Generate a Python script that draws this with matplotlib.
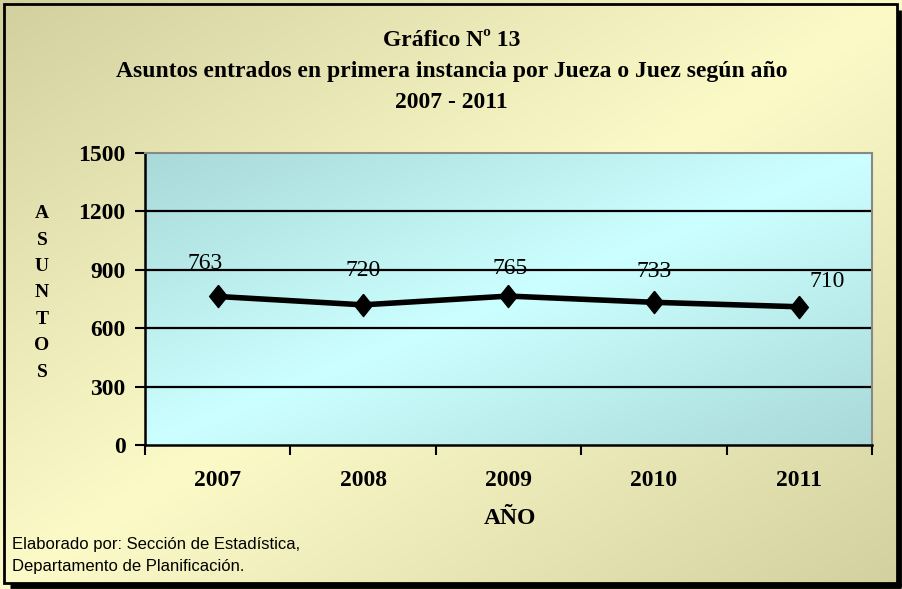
import numpy as np
import matplotlib
matplotlib.use('Agg')
import matplotlib.pyplot as plt
from matplotlib.colors import LinearSegmentedColormap
from matplotlib.path import Path
from matplotlib.patches import Rectangle

# Data
years = ['2007', '2008', '2009', '2010', '2011']
asuntos = [763, 720, 765, 733, 710]
yticks = [0, 300, 600, 900, 1200, 1500]

# label offsets (points) for the value labels, as placed in the original
label_offsets = [(-9, 24), (0, 25), (1, 20), (0, 22), (20, 18)]

plt.rcParams['font.family'] = ['Liberation Serif', 'DejaVu Serif']

W, H = 903, 589
fig = plt.figure(figsize=(W / 100, H / 100), dpi=100)


def diag_gradient(dark, light, n=300):
    xx, yy = np.meshgrid(np.linspace(0, 1, n), np.linspace(0, 1, n))
    t = (xx + yy) / 2
    cmap = LinearSegmentedColormap.from_list('g', [dark, light, dark])
    return t, cmap


# background gradient for the whole chart
bg = fig.add_axes([0, 0, 1, 1], zorder=-10)
t, cmap = diag_gradient('#d3d0a0', '#fcfbc8')
bg.imshow(t, cmap=cmap, extent=[0, 1, 0, 1], aspect='auto', origin='upper')
bg.set_xlim(0, 1)
bg.set_ylim(0, 1)
bg.axis('off')

# frame: thin on left/top, heavy shadow on right/bottom
lx, rx = 4 / W, 897 / W
ty, by = 1 - 4 / H, 1 - 583 / H
bg.add_patch(Rectangle((lx, by), rx - lx, ty - by, fill=False,
                       edgecolor='black', linewidth=2, transform=bg.transAxes))
bg.plot([rx + 2.5 / W, rx + 2.5 / W], [ty - 6 / H, by - 4 / H],
        color='black', linewidth=3.5, solid_capstyle='butt')
bg.plot([lx + 6 / W, rx + 4 / W], [by - 2.5 / H, by - 2.5 / H],
        color='black', linewidth=3.5, solid_capstyle='butt')

# plot area
ax = fig.add_axes([145 / W, 1 - 445 / H, (872 - 145) / W, (445 - 153) / H])
t2, cmap2 = diag_gradient('#a9d9d9', '#ccffff')
ax.imshow(t2, cmap=cmap2, extent=[-0.5, 4.5, 0, 1500], aspect='auto',
          origin='upper', zorder=0)

x = np.arange(len(years))
ax.plot(x, asuntos, color='black', linewidth=4, zorder=3)
diamond = Path([(0, 1), (0.8, 0), (0, -1), (-0.8, 0), (0, 1)])
ax.plot(x, asuntos, linestyle='none', marker=diamond, markersize=16,
        color='black', zorder=4)

for xi, v, off in zip(x, asuntos, label_offsets):
    ax.annotate(str(v), (xi, v), xytext=off, textcoords='offset points',
                ha='center', va='center', fontsize=17, zorder=5)

ax.set_xlim(-0.5, 4.5)
ax.set_ylim(0, 1500)
ax.set_yticks(yticks)
ax.set_yticklabels([str(v) for v in yticks], fontsize=17, fontweight='bold')
for v in yticks[1:-1]:
    ax.axhline(v, color='black', linewidth=1.6, zorder=2)

ax.set_xticks(np.arange(-0.5, 5, 1))
ax.set_xticklabels([])
ax.set_xticks(x, minor=True)
ax.set_xticklabels(years, minor=True, fontsize=17, fontweight='bold')
ax.tick_params(axis='x', which='major', direction='out', length=7, width=1.5)
ax.tick_params(axis='x', which='minor', length=0, pad=18)
ax.tick_params(axis='y', direction='out', length=7, width=1.5, pad=7)

ax.spines['left'].set_linewidth(1.8)
ax.spines['bottom'].set_linewidth(1.8)
ax.spines['top'].set_color('#888888')
ax.spines['right'].set_color('#888888')
ax.spines['top'].set_linewidth(1.5)
ax.spines['right'].set_linewidth(1.5)

# titles
fig.text(0.5, 1 - 40 / H, 'Gráfico Nº 13', ha='center', va='center',
         fontsize=17, fontweight='bold')
fig.text(0.5, 1 - 72 / H,
         'Asuntos entrados en primera instancia por Jueza o Juez según año',
         ha='center', va='center', fontsize=17, fontweight='bold')
fig.text(0.5, 1 - 103 / H, '2007 - 2011', ha='center', va='center',
         fontsize=17, fontweight='bold')

# axis labels
fig.text(42 / W, 1 - 293 / H, 'A\nS\nU\nN\nT\nO\nS', ha='center', va='center',
         fontsize=14, fontweight='bold', linespacing=1.72)
fig.text(510 / W, 1 - 518 / H, 'AÑO', ha='center', va='center',
         fontsize=17, fontweight='bold')

# footer
fig.text(12 / W, 1 - 545 / H, 'Elaborado por: Sección de Estadística,',
         ha='left', va='center', fontsize=12, family='Liberation Sans')
fig.text(12 / W, 1 - 567 / H, 'Departamento de Planificación.',
         ha='left', va='center', fontsize=12, family='Liberation Sans')

fig.savefig('out.png', dpi=100)
